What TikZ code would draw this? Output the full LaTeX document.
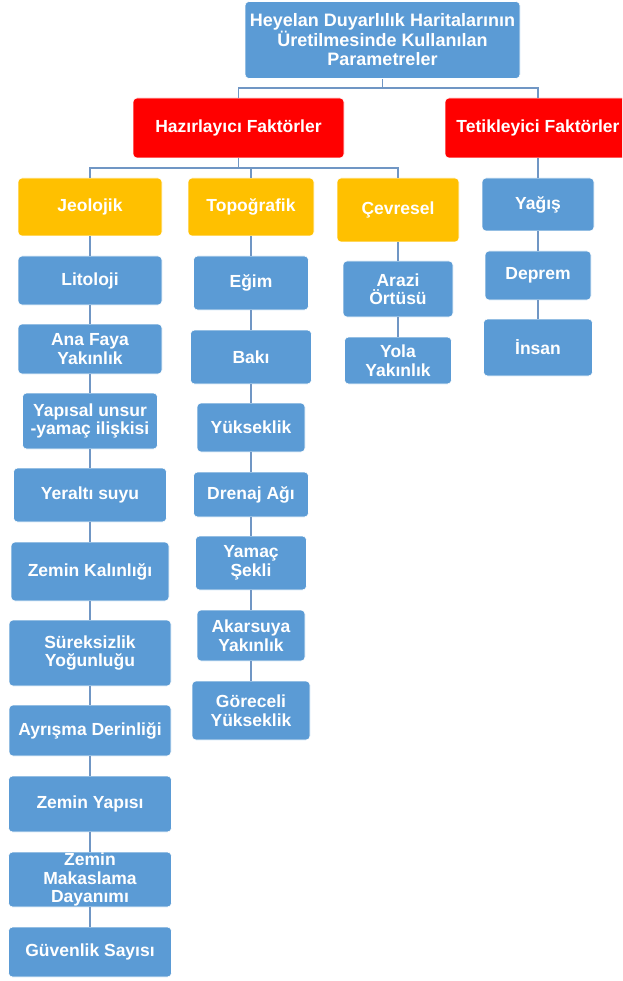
\documentclass[tikz,border=0pt]{standalone}
\usepackage{fontspec}
\setmainfont{Liberation Sans}
\begin{document}
\begin{tikzpicture}[x=1pt,y=-1pt,
  box/.style={rounded corners=4pt, draw=white, line width=0.6pt, text=white,
    font=\bfseries\fontsize{17.5}{18.5}\selectfont, align=center, inner sep=0pt},
  bluebox/.style={box, fill=blue1},
  redbox/.style={box, fill=red1},
  goldbox/.style={box, fill=gold1},
  conn/.style={draw=line1, line width=1.3pt},
]
\definecolor{blue1}{HTML}{5B9BD5}
\definecolor{red1}{HTML}{FF0000}
\definecolor{gold1}{HTML}{FFC000}
\definecolor{line1}{HTML}{7096C4}
\useasboundingbox (0,0) rectangle (622,981);
\clip (0,0) rectangle (622,981);

% tree connectors, drawn first so the boxes sit on top
\coordinate (bus1) at (0,88);
\coordinate (bus2) at (0,168);

% top level
\node[bluebox, minimum width=275pt, minimum height=77pt, font=\bfseries\fontsize{18}{19.5}\selectfont]
  (root) at (382.5,40) {Heyelan Duyarlılık Haritalarının\\Üretilmesinde Kullanılan\\Parametreler};
\node[redbox, minimum width=211pt, minimum height=60pt] (haz) at (238.5,128) {Hazırlayıcı Faktörler};
\node[redbox, minimum width=186pt, minimum height=60pt] (tet) at (538,128) {Tetikleyici Faktörler};

% factor groups
\node[goldbox, minimum width=144pt, minimum height=58pt] (jeo) at (90,207) {Jeolojik};
\node[goldbox, minimum width=126pt, minimum height=58pt] (topo) at (251,207) {Topoğrafik};
\node[goldbox, minimum width=122pt, minimum height=64pt] (cev) at (398,210) {Çevresel};

% geological parameters
\node[bluebox, minimum width=144pt, minimum height=49pt] (lit) at (90,280.5) {Litoloji};
\node[bluebox, minimum width=144pt, minimum height=50pt] (fay) at (90,349) {Ana Faya\\Yakınlık};
\node[bluebox, minimum width=135pt, minimum height=56pt] (yap) at (90,421) {Yapısal unsur\\-yamaç ilişkisi};
\node[bluebox, minimum width=153pt, minimum height=54pt] (yer) at (90,495) {Yeraltı suyu};
\node[bluebox, minimum width=158pt, minimum height=59pt] (kal) at (90,571.5) {Zemin Kalınlığı};
\node[bluebox, minimum width=162pt, minimum height=66pt] (sur) at (90,653) {Süreksizlik\\Yoğunluğu};
\node[bluebox, minimum width=162pt, minimum height=51pt] (ayr) at (90,730.5) {Ayrışma Derinliği};
\node[bluebox, minimum width=163pt, minimum height=56pt] (zyp) at (90,804) {Zemin Yapısı};
\node[bluebox, minimum width=163pt, minimum height=55pt] (mak) at (90,879.5) {Zemin\\Makaslama\\Dayanımı};
\node[bluebox, minimum width=163pt, minimum height=50pt] (guv) at (90,952) {Güvenlik Sayısı};

% topographic parameters
\node[bluebox, minimum width=115pt, minimum height=54pt] (egim) at (251,283) {Eğim};
\node[bluebox, minimum width=121pt, minimum height=54pt] (bak) at (251,357) {Bakı};
\node[bluebox, minimum width=108pt, minimum height=49pt] (yuk) at (251,427.5) {Yükseklik};
\node[bluebox, minimum width=115pt, minimum height=45pt] (dre) at (251,494.5) {Drenaj Ağı};
\node[bluebox, minimum width=111pt, minimum height=54pt] (yam) at (251,563) {Yamaç\\Şekli};
\node[bluebox, minimum width=108pt, minimum height=51pt] (aka) at (251,635.5) {Akarsuya\\Yakınlık};
\node[bluebox, minimum width=118pt, minimum height=59pt] (gor) at (251,710.5) {Göreceli\\Yükseklik};

% environmental parameters
\node[bluebox, minimum width=110pt, minimum height=56pt] (ara) at (398,289) {Arazi\\Örtüsü};
\node[bluebox, minimum width=107pt, minimum height=47pt] (yol) at (398,360.5) {Yola\\Yakınlık};

% triggering factors
\node[bluebox, minimum width=112pt, minimum height=53pt] (yag) at (538,204.5) {Yağış};
\node[bluebox, minimum width=106pt, minimum height=49pt] (dep) at (538,275.5) {Deprem};
\node[bluebox, minimum width=109pt, minimum height=57pt] (ins) at (538,347.5) {İnsan};

% root -> factor classes
\draw[conn] (root.south) -- (root.south |- bus1);
\draw[conn] (haz.north) -- (haz.north |- bus1) -- (tet.north |- bus1) -- (tet.north);

% preparatory factors -> groups
\draw[conn] (haz.south) -- (haz.south |- bus2);
\draw[conn] (jeo.north) -- (jeo.north |- bus2) -- (cev.north |- bus2) -- (cev.north);
\draw[conn] (topo.north) -- (topo.north |- bus2);
\draw[conn] (tet.south) -- (yag.north);

% column chains
\foreach \a/\b in {jeo/lit, lit/fay, fay/yap, yap/yer, yer/kal, kal/sur, sur/ayr, ayr/zyp, zyp/mak, mak/guv,
                   topo/egim, egim/bak, bak/yuk, yuk/dre, dre/yam, yam/aka, aka/gor,
                   cev/ara, ara/yol,
                   yag/dep, dep/ins}
  \draw[conn] (\a.south) -- (\b.north);
\end{tikzpicture}
\end{document}
